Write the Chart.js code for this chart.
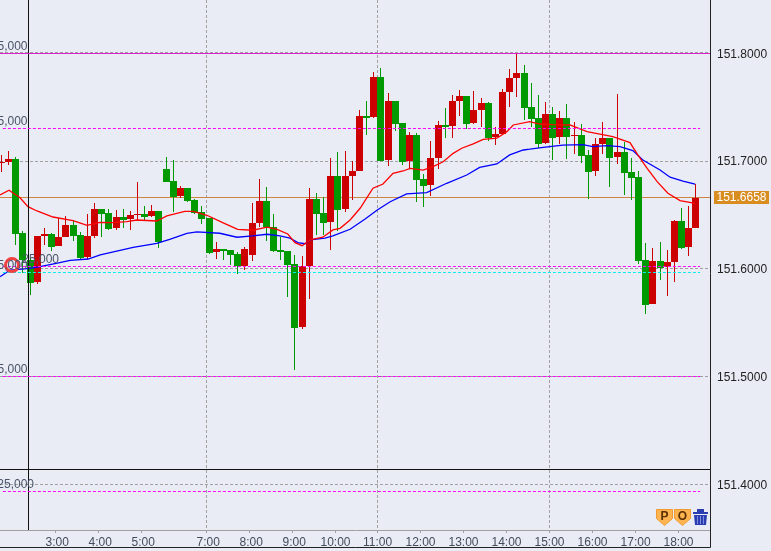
<!DOCTYPE html>
<html>
<head>
<meta charset="utf-8">
<title>USD/JPY</title>
<script src="https://cdn.jsdelivr.net/npm/chart.js@4"></script>
<style>
    html, body { margin: 0; padding: 0; background: #e9ecf5; }
    canvas { display: block; }
</style>
</head>
<body>
<canvas id="price-chart" width="771" height="551"></canvas>
<script>
const barOpen = [151.6982, 151.6991, 151.7019, 151.6332, 151.6082, 151.5881, 151.6304, 151.6323, 151.6212, 151.6295, 151.6406, 151.6314, 151.6109, 151.6304, 151.6555, 151.6518, 151.6379, 151.6481, 151.6462, 151.6499, 151.6508, 151.6490, 151.6536, 151.6926, 151.6815, 151.6676, 151.6750, 151.6639, 151.6528, 151.6472, 151.6156, 151.6184, 151.6175, 151.6138, 151.6027, 151.6129, 151.6426, 151.6630, 151.6388, 151.6175, 151.6166, 151.6045, 151.5460, 151.6027, 151.6648, 151.6518, 151.6435, 151.6862, 151.6555, 151.6861, 151.6907, 151.7418, 151.7408, 151.7780, 151.7009, 151.7557, 151.7353, 151.7000, 151.7241, 151.6833, 151.6777, 151.7028, 151.7334, 151.7325, 151.7557, 151.7603, 151.7353, 151.7473, 151.7538, 151.7223, 151.7251, 151.7640, 151.7770, 151.7817, 151.7501, 151.7399, 151.7167, 151.7436, 151.7223, 151.7399, 151.7232, 151.7242, 151.7056, 151.6908, 151.7158, 151.7214, 151.7037, 151.7084, 151.6898, 151.6852, 151.6082, 151.5673, 151.6072, 151.6017, 151.6063, 151.6444, 151.6202, 151.6379]
const barHigh = [151.7056, 151.7093, 151.7037, 151.6351, 151.6097, 151.6304, 151.6375, 151.6332, 151.6474, 151.6490, 151.6447, 151.6341, 151.6508, 151.6611, 151.6555, 151.6555, 151.6546, 151.6555, 151.6536, 151.6805, 151.6583, 151.6592, 151.6536, 151.7034, 151.7010, 151.6769, 151.6750, 151.6648, 151.6583, 151.6472, 151.6249, 151.6184, 151.6175, 151.6156, 151.6203, 151.6611, 151.6834, 151.6760, 151.6509, 151.6296, 151.6166, 151.6129, 151.6119, 151.6750, 151.6704, 151.6667, 151.7029, 151.7084, 151.7094, 151.7000, 151.7473, 151.7557, 151.7826, 151.7863, 151.7631, 151.7557, 151.7353, 151.7269, 151.7260, 151.6879, 151.7186, 151.7371, 151.7492, 151.7613, 151.7659, 151.7603, 151.7650, 151.7585, 151.7548, 151.7316, 151.7668, 151.7854, 151.7993, 151.7891, 151.7724, 151.7613, 151.7548, 151.7501, 151.7464, 151.7529, 151.7362, 151.7344, 151.7102, 151.7214, 151.7362, 151.7214, 151.7622, 151.7177, 151.7028, 151.6908, 151.6239, 151.6193, 151.6249, 151.6174, 151.6453, 151.6564, 151.6583, 151.6787]
const barLow = [151.6901, 151.6963, 151.6221, 151.5958, 151.5757, 151.5859, 151.6221, 151.6165, 151.6212, 151.6295, 151.6258, 151.6082, 151.6091, 151.6286, 151.6295, 151.6360, 151.6360, 151.6379, 151.6360, 151.6453, 151.6453, 151.6481, 151.6193, 151.6805, 151.6528, 151.6658, 151.6620, 151.6509, 151.6416, 151.6138, 151.6091, 151.6082, 151.6036, 151.5952, 151.5989, 151.6073, 151.6388, 151.6259, 151.6156, 151.6082, 151.5739, 151.5061, 151.5442, 151.5720, 151.6314, 151.6314, 151.6175, 151.6351, 151.6528, 151.6638, 151.6907, 151.7241, 151.7399, 151.7000, 151.6954, 151.7279, 151.6963, 151.6935, 151.6620, 151.6573, 151.6675, 151.6926, 151.7214, 151.7214, 151.7418, 151.7297, 151.7343, 151.7316, 151.7186, 151.7149, 151.7251, 151.7501, 151.7594, 151.7381, 151.7316, 151.7121, 151.7158, 151.7010, 151.7158, 151.7019, 151.7065, 151.6982, 151.6648, 151.6861, 151.7065, 151.6759, 151.6972, 151.6685, 151.6638, 151.6044, 151.5580, 151.5673, 151.5896, 151.5748, 151.5877, 151.6184, 151.6119, 151.6379]
const barClose = [151.6994, 151.7019, 151.6326, 151.6082, 151.5871, 151.6304, 151.6320, 151.6202, 151.6295, 151.6406, 151.6304, 151.6100, 151.6304, 151.6555, 151.6508, 151.6369, 151.6481, 151.6453, 151.6499, 151.6508, 151.6481, 151.6536, 151.6249, 151.6805, 151.6667, 151.6750, 151.6630, 151.6518, 151.6463, 151.6147, 151.6184, 151.6166, 151.6129, 151.6027, 151.6184, 151.6426, 151.6630, 151.6388, 151.6166, 151.6156, 151.6036, 151.5451, 151.6027, 151.6648, 151.6509, 151.6426, 151.6862, 151.6546, 151.6862, 151.6907, 151.7418, 151.7399, 151.7780, 151.7000, 151.7557, 151.7343, 151.6991, 151.7241, 151.6824, 151.6768, 151.7028, 151.7334, 151.7316, 151.7557, 151.7603, 151.7343, 151.7473, 151.7538, 151.7214, 151.7251, 151.7640, 151.7770, 151.7817, 151.7492, 151.7390, 151.7158, 151.7436, 151.7214, 151.7399, 151.7223, 151.7242, 151.7047, 151.6898, 151.7158, 151.7214, 151.7028, 151.7084, 151.6889, 151.6843, 151.6072, 151.5664, 151.6072, 151.6007, 151.6063, 151.6444, 151.6193, 151.6379, 151.6658]

const redLineBars = [-2.2, -0.95, 0.59, 1.7, 2.96, 5.2, 8, 9.95, 11.76, 13.6, 15.5, 16.9, 19.7, 21.1, 23.6, 24.8, 26.7, 28.9, 31, 33.1, 35.1, 36.5, 38, 39, 40, 41.1, 42.9, 44.3, 45.3, 46.7, 48.1, 49.9, 51.3, 52.7, 54.1, 55.1, 56.9, 58.3, 59.7, 61.1, 62.3, 63.9, 65.3, 67.2, 68.6, 69.5, 71.8, 73.2, 75, 77.4, 79.8, 81.6, 83.4, 85.8, 86.9, 88.2, 89.6, 91.1, 92.8, 94.9]
const redLineValues = [151.6685, 151.6729, 151.666, 151.6577, 151.6537, 151.6481, 151.6447, 151.6404, 151.6432, 151.6428, 151.6438, 151.6453, 151.6444, 151.6491, 151.6534, 151.6534, 151.6497, 151.6428, 151.6367, 151.6358, 151.6386, 151.6367, 151.6323, 151.6243, 151.6215, 151.6268, 151.6293, 151.6361, 151.6376, 151.6453, 151.6562, 151.6748, 151.6787, 151.6887, 151.6908, 151.6933, 151.6917, 151.6948, 151.6994, 151.7072, 151.7119, 151.7159, 151.7202, 151.7212, 151.7273, 151.7335, 151.7366, 151.7344, 151.7338, 151.7335, 151.7273, 151.7251, 151.7226, 151.7171, 151.7057, 151.6933, 151.6809, 151.6701, 151.6633, 151.6608]
const blueLineBars = [-2.2, -0.8, 2, 3.4, 5.8, 7.6, 10.1, 11.8, 16.4, 19.7, 21.5, 23.9, 25.3, 28.5, 30.9, 33.1, 35.1, 36.9, 38.3, 39.4, 40.4, 41.1, 43.2, 44.3, 46.7, 48.8, 50.5, 52.3, 54.6, 57.4, 60.2, 63, 64.8, 67.2, 69, 70.9, 71.8, 73.7, 76.4, 79.2, 80.6, 82.6, 84.4, 86.2, 87.6, 90, 91.4, 93.2, 94.9]
const blueLineValues = [151.5927, 151.5989, 151.6005, 151.602, 151.6052, 151.6079, 151.6091, 151.6129, 151.62, 151.6237, 151.6274, 151.633, 151.6342, 151.633, 151.6293, 151.6305, 151.6321, 151.6305, 151.6284, 151.6243, 151.6233, 151.6268, 151.6284, 151.6305, 151.6367, 151.6463, 151.6546, 151.6623, 151.6695, 151.6707, 151.6794, 151.6871, 151.6942, 151.6973, 151.7057, 151.7103, 151.711, 151.7128, 151.7149, 151.7152, 151.7134, 151.7143, 151.7134, 151.7097, 151.701, 151.6917, 151.685, 151.6815, 151.6785]

const priceTicks = [151.4, 151.5, 151.6, 151.7, 151.8]
const hourLabels = ['3:00', '4:00', '5:00', '7:00', '8:00', '9:00', '10:00', '11:00', '12:00', '13:00', '14:00', '15:00', '16:00', '17:00', '18:00']
const hourBars = [5.55, 11.55, 17.56, 26.64, 32.65, 38.66, 44.66, 50.53, 56.54, 62.54, 68.55, 74.56, 80.57, 86.58, 92.58]
const gridHours = ['7:00', '11:00', '15:00']

const dashedMagentaLevels = [151.7304, 151.6024, 151.5003, 151.3936]
const solidMagentaLevel = 151.8
const topGrayLevel = 151.8008
const cyanLevel = 151.5968
const lastPrice = 151.6658
const panelBreakPrice = 151.4135
const crosshairBar = 1.77
const markerBar = -0.53
const markerPrice = 151.6035

const noteTexts = ['5,000', '5,000', '25,000', '5,000', '5,000', '25,000']
const notePrices = [151.8058, 151.7362, 151.6081, 151.6026, 151.506, 151.3993]
const noteRightEdges = [27.5, 27.5, 59, 27.5, 27.5, 34]

const xMin = -2.207
const xMax = 96.98
const yMin = 151.3576
const yMax = 151.8495

const fontFamily = "'Liberation Sans', Arial, sans-serif"
const green = '#009900'
const red = '#cc0000'
const gridGray = '#a0a0a0'

const barNumber = i => i - 2
const isUp = i => barClose[i] >= barOpen[i]

const getWicks = () => barHigh.map((high, i) => ({ x: barNumber(i), y: [barLow[i], high] }))
const getBodies = () => barOpen.map((open, i) => ({ x: barNumber(i), y: [open, barClose[i]] }))

const candleColors = barOpen.map((open, i) => isUp(i) ? red : green)

const getLevelLine = (level, color, from, to, dash, order) => ({
    type: 'line',
    data: [{ x: from, y: level }, { x: to, y: level }],
    borderColor: color,
    borderWidth: 1,
    borderDash: dash,
    pointRadius: 0,
    order,
    snapLevel: true
})

const getAverageLine = (bars, values, color) => ({
    type: 'line',
    data: bars.map((bar, i) => ({ x: bar, y: values[i] })),
    borderColor: color,
    borderWidth: 1.3,
    pointRadius: 0,
    tension: 0,
    order: 2
})

// bars come out on fractional pixels, the original has them crisp
const snapPlugin = {
    id: 'snap',
    beforeDatasetsDraw: chart => {
        chart.data.datasets.forEach((dataset, index) => {
            const elements = chart.getDatasetMeta(index).data
            if (dataset.type === 'bar') {
                elements.forEach(el => {
                    el.x = Math.floor(el.x) + 0.5
                    const top = Math.round(Math.min(el.y, el.base))
                    const bottom = Math.max(Math.round(Math.max(el.y, el.base)), top + 1)
                    el.y = top
                    el.base = bottom
                })
            } else if (dataset.snapLevel) {
                elements.forEach(el => {
                    if (dataset.snapVertical) {
                        el.x = Math.floor(el.x) + 0.5
                    } else {
                        el.y = Math.floor(el.y) + 0.5
                    }
                })
            }
        })
    }
}

const drawShield = (ctx, x, y, letter) => {
    ctx.beginPath()
    ctx.moveTo(x, y)
    ctx.lineTo(x + 16, y)
    ctx.lineTo(x + 16, y + 9)
    ctx.lineTo(x + 8, y + 16)
    ctx.lineTo(x, y + 9)
    ctx.closePath()
    ctx.fillStyle = '#ffb452'
    ctx.fill()
    ctx.strokeStyle = '#f09a30'
    ctx.lineWidth = 1
    ctx.stroke()
    ctx.fillStyle = '#5a3000'
    ctx.font = `bold 12px ${fontFamily}`
    ctx.textAlign = 'center'
    ctx.textBaseline = 'middle'
    ctx.fillText(letter, x + 8, y + 7)
}

const drawTrash = (ctx, x, y) => {
    ctx.fillStyle = '#2a3cb0'
    ctx.fillRect(x, y + 3, 15, 2)
    ctx.fillRect(x + 4, y, 7, 3)
    ctx.beginPath()
    ctx.moveTo(x + 1, y + 6)
    ctx.lineTo(x + 14, y + 6)
    ctx.lineTo(x + 13, y + 16)
    ctx.lineTo(x + 2, y + 16)
    ctx.closePath()
    ctx.fill()
    ctx.fillStyle = '#7f8fe0'
    for (let i = 0; i < 3; i++) {
        ctx.fillRect(x + 4 + i * 3, y + 7, 1, 8)
    }
}

const overlayPlugin = {
    id: 'overlay',
    afterDatasetsDraw: chart => {
        const { ctx, scales } = chart
        ctx.save()
        ctx.font = `12px ${fontFamily}`
        ctx.fillStyle = '#4a5468'
        ctx.textAlign = 'right'
        ctx.textBaseline = 'middle'
        noteTexts.forEach((text, i) => {
            ctx.fillText(text, noteRightEdges[i], scales.y.getPixelForValue(notePrices[i]))
        })
        ctx.restore()
    },
    afterDraw: chart => {
        const { ctx, scales } = chart
        ctx.save()

        ctx.strokeStyle = '#222222'
        ctx.lineWidth = 1
        ctx.beginPath()
        ctx.moveTo(710.5, 0)
        ctx.lineTo(710.5, 547.5)
        ctx.lineTo(0, 547.5)
        ctx.stroke()

        const priceY = Math.floor(scales.y.getPixelForValue(lastPrice))
        ctx.fillStyle = '#d98c20'
        ctx.fillRect(714, priceY - 6, 55, 13)
        ctx.fillStyle = '#ffffff'
        ctx.font = `12px ${fontFamily}`
        ctx.textAlign = 'center'
        ctx.textBaseline = 'middle'
        ctx.fillText(lastPrice.toFixed(4), 741.5, priceY + 1)

        drawShield(ctx, 656.5, 509.5, 'P')
        drawShield(ctx, 674.5, 509.5, 'O')
        drawTrash(ctx, 693, 509)

        ctx.restore()
    }
}

new Chart(document.querySelector('#price-chart'), {
    type: 'bar',
    data: {
        datasets: [
            {
                type: 'scatter',
                data: [{ x: markerBar, y: markerPrice }],
                pointRadius: 6.5,
                pointBorderWidth: 3,
                pointBorderColor: '#f04040',
                pointBackgroundColor: 'rgba(0,0,0,0)',
                order: 0
            },
            getLevelLine(cyanLevel, '#00eeee', -1.8, 95.6, [3, 2], 1),
            ...dashedMagentaLevels.map(level => getLevelLine(level, '#ff00ff', -1.8, 95.6, [3, 2], 1)),
            getLevelLine(solidMagentaLevel, '#dd22cc', xMin, xMax, [], 1),
            getLevelLine(topGrayLevel, gridGray, xMin, xMax, [3, 2], 1),
            getAverageLine(redLineBars, redLineValues, '#ff0000'),
            getAverageLine(blueLineBars, blueLineValues, '#0000ff'),
            {
                type: 'line',
                data: [{ x: crosshairBar, y: yMin }, { x: crosshairBar, y: yMax }],
                borderColor: '#111111',
                borderWidth: 1,
                pointRadius: 0,
                order: 1,
                snapLevel: true,
                snapVertical: true
            },
            getLevelLine(panelBreakPrice, '#111111', xMin, xMax, [], 1),
            {
                type: 'bar',
                data: getBodies(),
                backgroundColor: candleColors,
                barThickness: 7,
                grouped: false,
                inflateAmount: 0,
                order: 3
            },
            {
                type: 'bar',
                data: getWicks(),
                backgroundColor: candleColors,
                barThickness: 1,
                grouped: false,
                inflateAmount: 0,
                order: 4
            },
            getLevelLine(lastPrice, '#cd853f', xMin, xMax, [], 5)
        ]
    },
    options: {
        responsive: false,
        devicePixelRatio: 1,
        animation: false,
        events: [],
        layout: { padding: 0, autoPadding: false },
        plugins: {
            legend: { display: false },
            title: { display: false },
            tooltip: { enabled: false }
        },
        scales: {
            x: {
                type: 'linear',
                offset: false,
                min: xMin,
                max: xMax,
                afterBuildTicks: axis => {
                    axis.ticks = hourBars.map(value => ({ value }))
                },
                afterFit: axis => {
                    axis.height = 21
                    axis.paddingLeft = 0
                    axis.paddingRight = 0
                },
                grid: {
                    offset: false,
                    color: ctx => ctx.tick && gridHours.includes(hourLabels[hourBars.indexOf(ctx.tick.value)]) ? gridGray : 'rgba(0,0,0,0)',
                    tickColor: gridGray,
                    tickLength: 3
                },
                border: { color: gridGray, dash: [3, 2] },
                ticks: {
                    autoSkip: false,
                    maxRotation: 0,
                    minRotation: 0,
                    padding: 2,
                    color: '#444c5c',
                    font: { family: fontFamily, size: 12 },
                    callback: (value, index) => hourLabels[index].length < 5 ? ` ${hourLabels[index]}` : hourLabels[index]
                }
            },
            y: {
                type: 'linear',
                position: 'right',
                min: yMin,
                max: yMax,
                afterBuildTicks: axis => {
                    axis.ticks = priceTicks.map(value => ({ value }))
                },
                afterFit: axis => {
                    axis.width = 61
                    axis.paddingTop = 0
                    axis.paddingBottom = 0
                },
                grid: {
                    color: gridGray,
                    drawTicks: false
                },
                border: { display: false, dash: [3, 2] },
                ticks: {
                    padding: 7,
                    labelOffset: 1,
                    color: '#222222',
                    font: { family: fontFamily, size: 12 },
                    callback: value => value.toFixed(4)
                }
            }
        }
    },
    plugins: [snapPlugin, overlayPlugin]
})
</script>
</body>
</html>
